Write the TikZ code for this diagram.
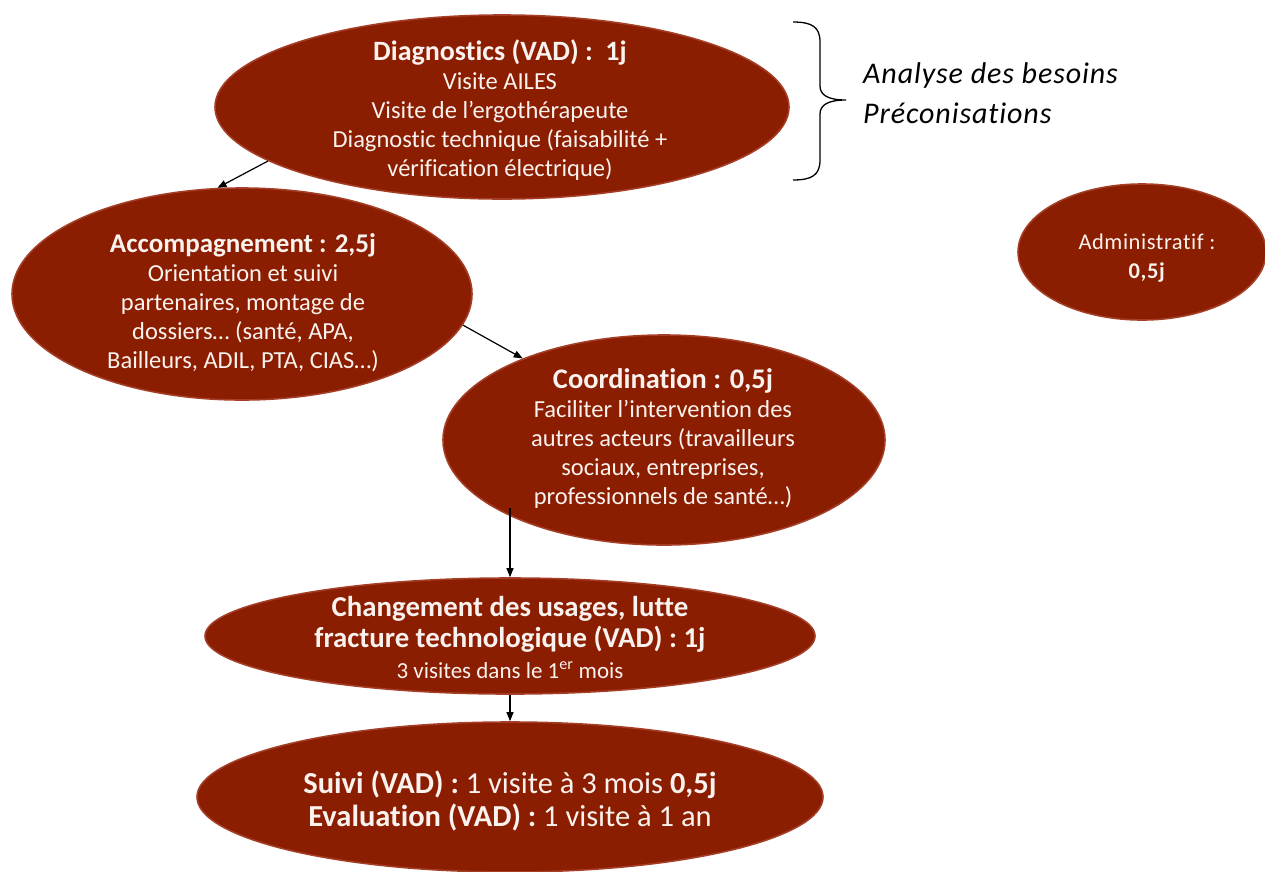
\documentclass[tikz,border=0pt]{standalone}
\usepackage{fontspec}
\setmainfont{Carlito}[Ligatures=NoCommon]
\usetikzlibrary{shapes.geometric,arrows.meta}
\definecolor{blobfill}{RGB}{139,29,0}
\definecolor{blobline}{RGB}{165,62,38}
\definecolor{blobtext}{RGB}{250,242,238}
\tikzset{
  blob/.style={ellipse, fill=blobfill, draw=blobline, line width=1.6pt, inner sep=0pt},
  txt/.style={text=blobtext, align=center, inner sep=0pt, font=\fontsize{24.5}{29}\selectfont},
  arr/.style={-{Triangle[length=9pt,width=7pt]}, line width=1.2pt, black},
}
\begin{document}
\begin{tikzpicture}[x=1pt,y=-1pt]
\useasboundingbox (0,0) rectangle (1265,871);
% ellipses
\node[blob, minimum width=574pt, minimum height=184pt] (diag) at (502,107) {};
\node[blob, minimum width=460pt, minimum height=212pt] (acc) at (242,294) {};
\node[blob, minimum width=442pt, minimum height=210pt] (coord) at (664,440) {};
\node[blob, minimum width=610pt, minimum height=116pt] (chg) at (510,636) {};
\node[blob, minimum width=626pt, minimum height=150pt] (suivi) at (510,797) {};
\node[blob, minimum width=248pt, minimum height=136pt] (admin) at (1142,252) {};
% texts
\node[txt] (diagT) at (500,110) {{\fontsize{28}{29}\selectfont\bfseries Diagnostics (VAD) :\ \ 1j}\\Visite AILES\\Visite de l’ergothérapeute\\Diagnostic technique (faisabilité +\\vérification électrique)};
\node[txt] (accT) at (243,303) {{\fontsize{27}{29}\selectfont\bfseries Accompagnement : 2,5j}\\Orientation et suivi\\partenaires, montage de\\dossiers… (santé, APA,\\Bailleurs, ADIL, PTA, CIAS…)};
\node[txt] (coordT) at (663,438) {{\fontsize{28.4}{29}\selectfont\bfseries Coordination : 0,5j}\\Faciliter l’intervention des\\autres acteurs (travailleurs\\sociaux, entreprises,\\professionnels de santé…)};
\node[txt, font=\fontsize{28.8}{31}\selectfont] (chgT) at (510,637) {\bfseries Changement des usages, lutte\\\bfseries fracture technologique (VAD) : 1j\\{\fontsize{23}{26}\selectfont 3 visites dans le 1\textsuperscript{er} mois}};
\node[txt, font=\fontsize{30.5}{33}\selectfont] (suiviT) at (510,801) {\textbf{Suivi (VAD) :} 1 visite à 3 mois \textbf{0,5j}\\\textbf{Evaluation (VAD) :} 1 visite à 1 an};
\node[txt, font=\fontsize{22.5}{29}\selectfont\addfontfeatures{LetterSpace=2.5}] (adminT) at (1147,258) {Administratif :\\\textbf{0,5j}};
% brace and side text
\draw[line width=1.3pt, black] (793,22) .. controls (812,22) and (820,27) .. (820,42) -- (820,86) .. controls (820,95) and (828,100) .. (846,100)
  .. controls (828,100) and (820,105) .. (820,114) -- (820,160) .. controls (820,175) and (812,180) .. (793,180);
\node[anchor=west, align=left, inner sep=0pt, font=\fontsize{30}{40}\selectfont\itshape\addfontfeatures{LetterSpace=3}] (besoins) at (863,93) {Analyse des besoins\\Préconisations};
% connectors
\draw[arr] (diag.193) -- (acc.103);
\draw[arr] (acc.352) -- (coord.150);
\draw[arr] (chg.north |- coord.202) -- (chg.north);
\draw[arr] (chg.south) -- (suivi.north);
\end{tikzpicture}
\end{document}
